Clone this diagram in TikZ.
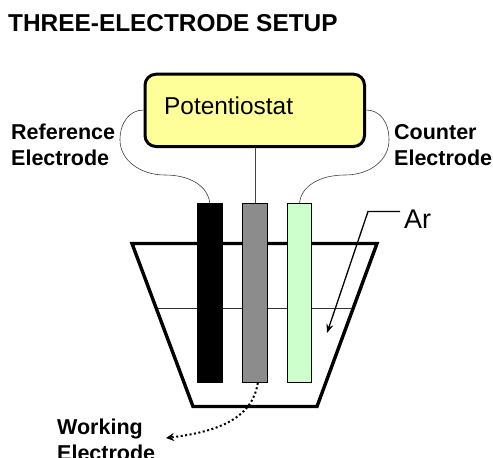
\documentclass[tikz,border=0pt]{standalone}
\usepackage{fontspec}
\setmainfont{Liberation Sans}
\usetikzlibrary{arrows.meta}
\definecolor{boxy}{HTML}{FFFF99}
\definecolor{elgreen}{HTML}{CCFFCC}
\definecolor{elgray}{HTML}{8C8C8C}
\tikzset{x=1pt,y=-1pt,
 lab/.style={font=\bfseries\fontsize{21.5}{26}\selectfont,align=left,inner sep=0pt,text=black},
 wire/.style={line width=0.6pt,draw=black!75},
 electrode/.style={draw=black,line width=0.6pt,minimum width=24.4pt,minimum height=179pt,inner sep=0pt,anchor=north west}}
\begin{document}
\begin{tikzpicture}
\useasboundingbox (0,0) rectangle (493,458);
\node[lab,anchor=west,font=\bfseries\fontsize{24.4}{28}\selectfont] (title) at (8,23) {THREE-ELECTRODE SETUP};
\node[draw=black,line width=3pt,rounded corners=11pt,fill=boxy,minimum width=219.5pt,minimum height=72.3pt,inner sep=0,anchor=north west] (pot) at (143.5,72.7) {};
\node[anchor=west,inner sep=0,font=\fontsize{24.4}{28}\selectfont] (potl) at (164,106) {Potentiostat};
\node[lab,anchor=north west] (ref) at (11,124) {Reference\\Electrode};
\node[lab,anchor=north west] (cou) at (394,124) {Counter\\Electrode};
\node[lab,anchor=north west] (wor) at (57,419) {Working\\Electrode};
\node[anchor=west,inner sep=0,font=\fontsize{27}{30}\selectfont] (ar) at (404,219) {Ar};
\coordinate (beakTL) at (132,243.5);
\coordinate (beakTR) at (377,243.5);
\coordinate (beakBR) at (317,406.5);
\coordinate (beakBL) at (193,406.5);
\draw[line width=3.4pt,line join=miter] (beakTL) -- (beakTR) -- (beakBR) -- (beakBL) -- cycle;
\coordinate (liqL) at (158,308);
\coordinate (liqR) at (352,308);
\draw[line width=0.7pt,draw=black!80] (liqL) -- (liqR);
\node[electrode,fill=black] (re) at (197.3,203.3) {};
\node[electrode,fill=elgray] (we) at (242.3,203.3) {};
\node[electrode,fill=elgreen] (ce) at (287,203.3) {};
\draw[wire] (pot.south -| we.north) -- (we.north);
\draw[wire] (pot.west |- 0,110) .. controls (130,110) and (120,122) .. (120,140) .. controls (120,160) and (140,175) .. (165,175) .. controls (190,175) and (208,186) .. (re.north);
\draw[wire] (pot.east |- 0,110) .. controls (380,110) and (389,122) .. (389,140) .. controls (389,160) and (370,175) .. (345,175) .. controls (320,175) and (301,186) .. (ce.north);
\coordinate (arr) at (400,211.5);
\coordinate (arb) at (368,211.5);
\coordinate (art) at (327,333);
\draw[line width=1.3pt,-{Stealth[length=9pt,width=7pt]}] (arr) -- (arb) -- (art);
\coordinate (wtip) at (166,438);
\draw[line width=2pt,dash pattern=on 2pt off 2.5pt,-{Stealth[length=8pt,width=8pt]}] (we.south) ++(3,0) .. controls (252,420) and (215,432) .. (wtip);
\end{tikzpicture}
\end{document}
